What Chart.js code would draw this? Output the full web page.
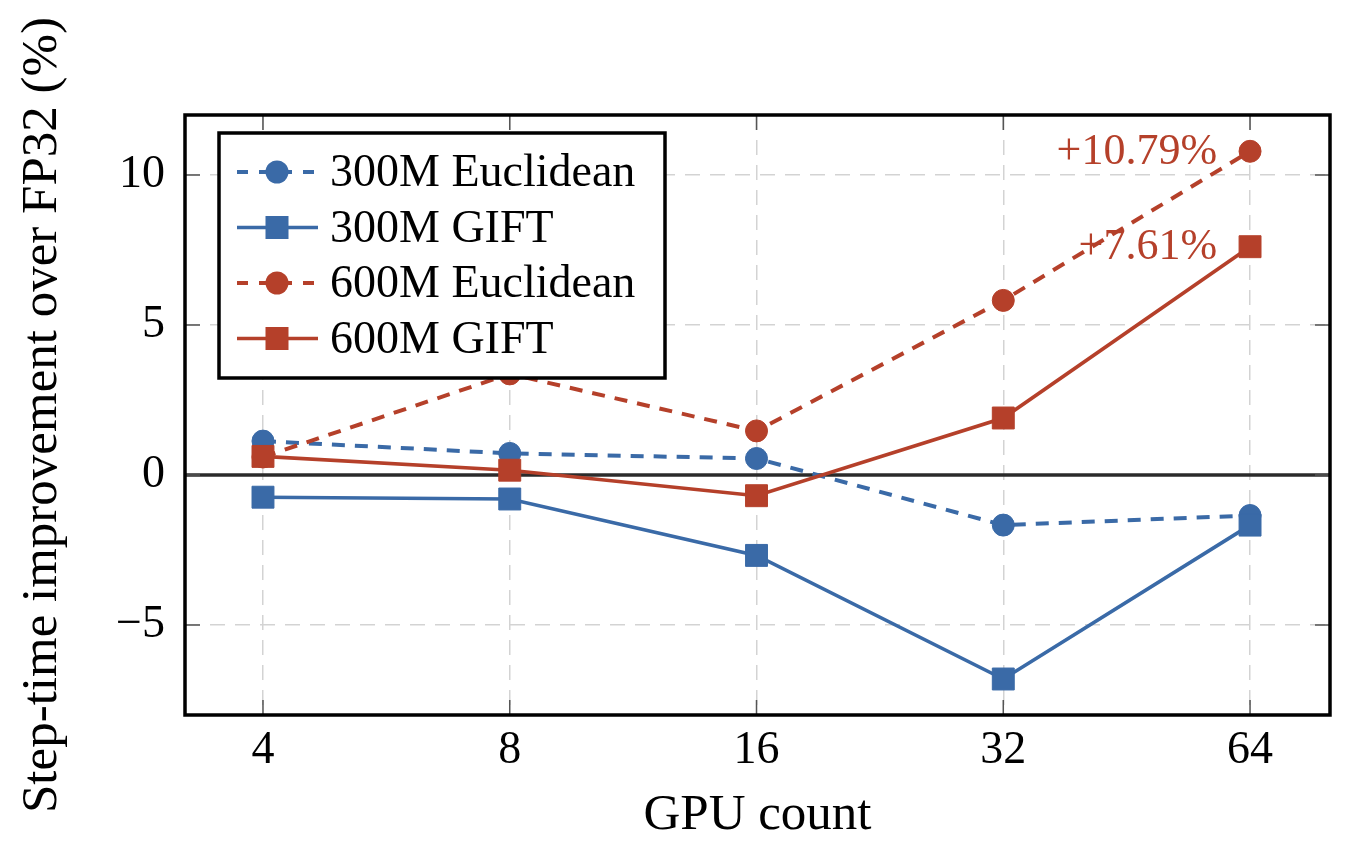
<!DOCTYPE html>
<html>
<head>
<meta charset="utf-8">
<script src="https://cdn.jsdelivr.net/npm/chart.js@4.4.1/dist/chart.umd.min.js"></script>
<style>
  html, body { margin: 0; padding: 0; background: #fff; }
  #theChart { display: block; }
</style>
</head>
<body>
<canvas id="theChart" width="1352" height="852"></canvas>
<script>
// values
const gpuCounts = ["4", "8", "16", "32", "64"];
const euclid300 = [1.13, 0.72, 0.55, -1.67, -1.35];
const gift300 = [-0.74, -0.8, -2.68, -6.8, -1.67];
const euclid600 = [0.6, 3.37, 1.47, 5.82, 10.79];
const gift600 = [0.62, 0.16, -0.69, 1.9, 7.61];
const yTicks = [-5, 0, 5, 10];
const endLabels = { 2: "+10.79%", 3: "+7.61%" }; // dataset index -> label at last point

const COLORS = {
  blue: "#3a6aa7",
  red: "#b5402a",
  grid: "#d3d3d3",
  tick: "#555555",
};
const FONT = "'Liberation Serif', 'Times New Roman', serif";

function makeSet(label, values, color, dashed, circle, order) {
  return {
    label: label,
    data: values.map((y, i) => ({ x: i, y: y })),
    borderColor: color,
    backgroundColor: color,
    borderWidth: dashed ? 4 : 3.6,
    borderDash: dashed ? [13, 10] : [],
    pointStyle: circle ? "circle" : "rect",
    pointRadius: circle ? 11 : 15.5,
    pointBorderWidth: 1,
    pointBorderColor: color,
    pointBackgroundColor: color,
    tension: 0,
    fill: false,
    order: order,
  };
}

const data = {
  datasets: [
    makeSet("300M Euclidean", euclid300, COLORS.blue, true, true, 4),
    makeSet("300M GIFT", gift300, COLORS.blue, false, false, 3),
    makeSet("600M Euclidean", euclid600, COLORS.red, true, true, 2),
    makeSet("600M GIFT", gift600, COLORS.red, false, false, 1),
  ],
};

// zero line drawn under the data
const zeroLine = {
  id: "zeroLine",
  beforeDatasetsDraw(chart) {
    const { ctx, chartArea, scales } = chart;
    const y0 = scales.y.getPixelForValue(0);
    ctx.save();
    ctx.strokeStyle = "#2b2b2b";
    ctx.lineWidth = 3.5;
    ctx.beginPath();
    ctx.moveTo(chartArea.left, y0);
    ctx.lineTo(chartArea.right, y0);
    ctx.stroke();
    ctx.restore();
  },
};

// frame, inward tick marks, end labels and the boxed legend
const overlay = {
  id: "overlay",
  afterDatasetsDraw(chart) {
    const { ctx, chartArea, scales } = chart;
    const a = chartArea;
    ctx.save();

    // inward ticks
    ctx.strokeStyle = COLORS.tick;
    ctx.lineWidth = 1.5;
    ctx.beginPath();
    gpuCounts.forEach((_, i) => {
      const x = scales.x.getPixelForValue(i);
      ctx.moveTo(x, a.top); ctx.lineTo(x, a.top + 15);
      ctx.moveTo(x, a.bottom); ctx.lineTo(x, a.bottom - 15);
    });
    yTicks.forEach((v) => {
      const y = scales.y.getPixelForValue(v);
      ctx.moveTo(a.left, y); ctx.lineTo(a.left + 15, y);
      ctx.moveTo(a.right, y); ctx.lineTo(a.right - 15, y);
    });
    ctx.stroke();

    // frame
    ctx.strokeStyle = "#000";
    ctx.lineWidth = 3.5;
    ctx.strokeRect(a.left, a.top, a.right - a.left, a.bottom - a.top);

    // end-point labels
    ctx.font = "44px " + FONT;
    ctx.textAlign = "right";
    ctx.textBaseline = "middle";
    Object.keys(endLabels).forEach((k) => {
      const ds = chart.data.datasets[k];
      const last = ds.data[ds.data.length - 1];
      ctx.fillStyle = ds.borderColor;
      ctx.fillText(endLabels[k], scales.x.getPixelForValue(last.x) - 33,
        scales.y.getPixelForValue(last.y) + 1);
    });

    // legend box
    const box = { x: 219, y: 133, w: 446, h: 245 };
    ctx.fillStyle = "#fff";
    ctx.fillRect(box.x, box.y, box.w, box.h);
    ctx.strokeStyle = "#000";
    ctx.lineWidth = 3.5;
    ctx.strokeRect(box.x, box.y, box.w, box.h);
    chart.data.datasets.forEach((ds, i) => {
      const y = 172 + i * 55.5;
      ctx.strokeStyle = ds.borderColor;
      ctx.lineWidth = ds.borderWidth;
      ctx.setLineDash(ds.pointStyle === "circle" ? [11, 11] : []);
      ctx.beginPath();
      ctx.moveTo(237, y);
      ctx.lineTo(318, y);
      ctx.stroke();
      ctx.setLineDash([]);
      ctx.fillStyle = ds.borderColor;
      if (ds.pointStyle === "circle") {
        ctx.beginPath();
        ctx.arc(277, y, 11.5, 0, Math.PI * 2);
        ctx.fill();
      } else {
        ctx.fillRect(277 - 11.5, y - 11.5, 23, 23);
      }
      ctx.fillStyle = "#000";
      ctx.textAlign = "left";
      ctx.font = "46px " + FONT;
      ctx.fillText(ds.label, 330, y + 2);
    });
    ctx.restore();
  },
};

const tickFont = { family: FONT, size: 46 };
const titleFont = { family: FONT, size: 51 };

const config = {
  type: "line",
  data: data,
  options: {
    responsive: false,
    animation: false,
    layout: { padding: { left: 0, top: 115, right: 22, bottom: 0 } },
    plugins: {
      legend: { display: false },
      tooltip: { enabled: false },
    },
    scales: {
      x: {
        type: "linear",
        min: -0.316,
        max: 4.324,
        afterBuildTicks: (s) => { s.ticks = gpuCounts.map((_, i) => ({ value: i })); },
        afterFit: (s) => { s.height = 137; },
        ticks: {
          callback: (v) => gpuCounts[v],
          font: tickFont,
          color: "#000",
          padding: 8,
          maxRotation: 0,
          autoSkip: false,
        },
        grid: { color: COLORS.grid, lineWidth: 1.5, drawTicks: false },
        border: { display: false, dash: [15, 10] },
        title: {
          display: true,
          text: "GPU count",
          font: titleFont,
          color: "#000",
          padding: { top: 0, bottom: 6 },
        },
      },
      y: {
        min: -8,
        max: 12,
        afterBuildTicks: (s) => { s.ticks = yTicks.map((v) => ({ value: v })); },
        afterFit: (s) => { s.width = 185; },
        ticks: {
          callback: (v) => (v < 0 ? "\u2212" + Math.abs(v) : String(v)),
          font: tickFont,
          color: "#000",
          padding: 20,
        },
        grid: { color: COLORS.grid, lineWidth: 1.5, drawTicks: false },
        border: { display: false, dash: [15, 10] },
        title: {
          display: true,
          text: "Step-time improvement over FP32 (%)",
          font: titleFont,
          color: "#000",
          padding: { top: 12, bottom: 0 },
        },
      },
    },
  },
  plugins: [zeroLine, overlay],
};

const theChart = new Chart(document.getElementById("theChart"), config);
</script>
</body>
</html>
